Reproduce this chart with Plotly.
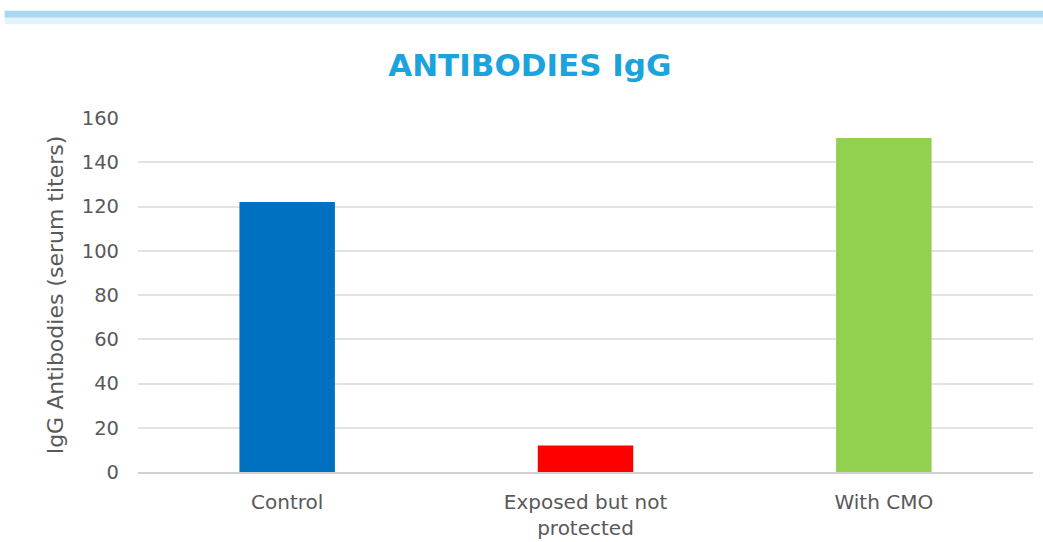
import plotly.graph_objects as go

categories = ["Control", "Exposed but not<br>protected", "With CMO"]
igg_titers = [122, 12, 151]
bar_colors = ["#0070C0", "#FF0000", "#92D050"]
y_ticks = [0, 20, 40, 60, 80, 100, 120, 140, 160]

fig = go.Figure(
    go.Bar(
        x=categories,
        y=igg_titers,
        marker=dict(color=bar_colors, line=dict(width=0)),
        width=0.32,
        hoverinfo="x+y",
    )
)

# thin blue banner strip along the top edge
fig.add_shape(type="rect", xref="paper", yref="paper",
              x0=-0.149, x1=1.02, y0=1.283, y1=1.303,
              fillcolor="#A9D8F2", line=dict(width=0), layer="below")
fig.add_shape(type="rect", xref="paper", yref="paper",
              x0=-0.149, x1=1.02, y0=1.265, y1=1.283,
              fillcolor="#E4F3FB", line=dict(width=0), layer="below")

fig.update_layout(
    width=1043,
    height=542,
    margin=dict(l=138, r=10, t=118, b=70, autoexpand=False),
    paper_bgcolor="white",
    plot_bgcolor="white",
    showlegend=False,
    title=dict(
        text="<b>ANTIBODIES IgG</b>",
        x=0.508, xanchor="center", xref="container",
        y=0.88, yanchor="middle",
        font=dict(family="DejaVu Sans, sans-serif", size=31, color="#1AA3DC"),
    ),
    font=dict(family="DejaVu Sans, sans-serif", color="#595959"),
)

fig.update_xaxes(
    showgrid=False,
    showline=True,
    linecolor="#D0D0D0",
    linewidth=1.5,
    ticks="",
    automargin=False,
    tickfont=dict(size=20, color="#595959"),
    ticklabelstandoff=11,
)

fig.update_yaxes(
    range=[0, 160],
    tickvals=y_ticks,
    showgrid=True,
    gridcolor="#E3E3E3",
    gridwidth=1.5,
    zeroline=False,
    showline=False,
    ticks="",
    automargin=False,
    tickfont=dict(size=19.5, color="#595959"),
    ticklabelstandoff=18,
    title=dict(
        text="IgG Antibodies (serum titers)",
        font=dict(size=22, color="#595959"),
        standoff=12,
    ),
)

fig.write_html("out.html")
